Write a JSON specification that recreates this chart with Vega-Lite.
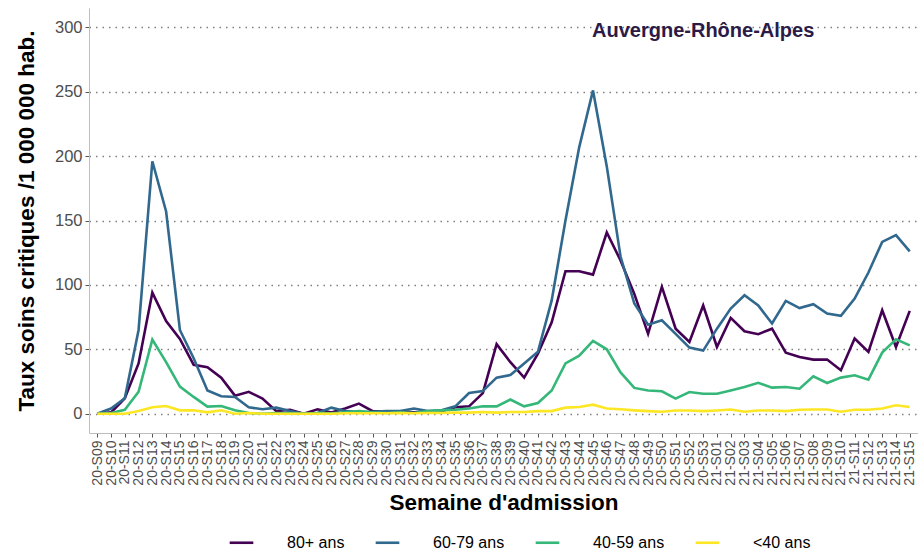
{
  "$schema": "https://vega.github.io/schema/vega-lite/v6.json",
  "width": 829,
  "height": 425,
  "autosize": {"type": "none"},
  "padding": {"left": 89, "top": 8, "right": 0, "bottom": 118},
  "background": "white",
  "config": {
    "font": "Liberation Sans",
    "view": {"stroke": null},
    "axis": {"labelFont": "Liberation Sans", "titleFont": "Liberation Sans"}
  },
  "layer": [
    {
      "data": {"values": [
        {"week":"20-S09","80+ ans":0,"60-79 ans":0,"40-59 ans":0,"<40 ans":0},
        {"week":"20-S10","80+ ans":1,"60-79 ans":4,"40-59 ans":0.5,"<40 ans":0},
        {"week":"20-S11","80+ ans":12,"60-79 ans":12,"40-59 ans":3,"<40 ans":0},
        {"week":"20-S12","80+ ans":39,"60-79 ans":65,"40-59 ans":17,"<40 ans":2},
        {"week":"20-S13","80+ ans":94,"60-79 ans":196,"40-59 ans":57.5,"<40 ans":5},
        {"week":"20-S14","80+ ans":72,"60-79 ans":157,"40-59 ans":40,"<40 ans":6},
        {"week":"20-S15","80+ ans":58,"60-79 ans":65,"40-59 ans":21,"<40 ans":2.6},
        {"week":"20-S16","80+ ans":38,"60-79 ans":43,"40-59 ans":13,"<40 ans":2.6},
        {"week":"20-S17","80+ ans":36,"60-79 ans":18,"40-59 ans":5.5,"<40 ans":1},
        {"week":"20-S18","80+ ans":28,"60-79 ans":13.5,"40-59 ans":6,"<40 ans":2.6},
        {"week":"20-S19","80+ ans":14,"60-79 ans":13,"40-59 ans":2.6,"<40 ans":0},
        {"week":"20-S20","80+ ans":17,"60-79 ans":5,"40-59 ans":0.5,"<40 ans":0.5},
        {"week":"20-S21","80+ ans":11.7,"60-79 ans":3.4,"40-59 ans":0,"<40 ans":0},
        {"week":"20-S22","80+ ans":2,"60-79 ans":4.7,"40-59 ans":0.5,"<40 ans":0},
        {"week":"20-S23","80+ ans":3,"60-79 ans":2,"40-59 ans":0.3,"<40 ans":0},
        {"week":"20-S24","80+ ans":0,"60-79 ans":0,"40-59 ans":0,"<40 ans":0},
        {"week":"20-S25","80+ ans":3.4,"60-79 ans":0.5,"40-59 ans":0.5,"<40 ans":0},
        {"week":"20-S26","80+ ans":1,"60-79 ans":4.7,"40-59 ans":0.3,"<40 ans":0},
        {"week":"20-S27","80+ ans":4,"60-79 ans":2,"40-59 ans":1,"<40 ans":0.3},
        {"week":"20-S28","80+ ans":7.8,"60-79 ans":1.3,"40-59 ans":2,"<40 ans":0.3},
        {"week":"20-S29","80+ ans":2,"60-79 ans":1.5,"40-59 ans":1,"<40 ans":0.3},
        {"week":"20-S30","80+ ans":1.5,"60-79 ans":2,"40-59 ans":0.5,"<40 ans":0.3},
        {"week":"20-S31","80+ ans":1.5,"60-79 ans":2,"40-59 ans":1,"<40 ans":0.5},
        {"week":"20-S32","80+ ans":1,"60-79 ans":4,"40-59 ans":0.5,"<40 ans":0.3},
        {"week":"20-S33","80+ ans":1.5,"60-79 ans":2,"40-59 ans":2,"<40 ans":0.5},
        {"week":"20-S34","80+ ans":2,"60-79 ans":2.6,"40-59 ans":2.6,"<40 ans":0.5},
        {"week":"20-S35","80+ ans":5,"60-79 ans":5.7,"40-59 ans":3,"<40 ans":0.8},
        {"week":"20-S36","80+ ans":5.7,"60-79 ans":16,"40-59 ans":4,"<40 ans":0.8},
        {"week":"20-S37","80+ ans":16,"60-79 ans":17.6,"40-59 ans":5.7,"<40 ans":1.3},
        {"week":"20-S38","80+ ans":54,"60-79 ans":28,"40-59 ans":5.7,"<40 ans":0.8},
        {"week":"20-S39","80+ ans":40,"60-79 ans":30,"40-59 ans":11,"<40 ans":1.3},
        {"week":"20-S40","80+ ans":28,"60-79 ans":39,"40-59 ans":5.7,"<40 ans":1.3},
        {"week":"20-S41","80+ ans":46.6,"60-79 ans":48,"40-59 ans":8.3,"<40 ans":2},
        {"week":"20-S42","80+ ans":71,"60-79 ans":88,"40-59 ans":18,"<40 ans":2},
        {"week":"20-S43","80+ ans":110.6,"60-79 ans":150,"40-59 ans":39,"<40 ans":4.7},
        {"week":"20-S44","80+ ans":110.6,"60-79 ans":207,"40-59 ans":45,"<40 ans":5.2},
        {"week":"20-S45","80+ ans":108,"60-79 ans":251,"40-59 ans":56.5,"<40 ans":7},
        {"week":"20-S46","80+ ans":140.7,"60-79 ans":192,"40-59 ans":50,"<40 ans":4},
        {"week":"20-S47","80+ ans":119,"60-79 ans":122,"40-59 ans":32,"<40 ans":3.4},
        {"week":"20-S48","80+ ans":93,"60-79 ans":85.5,"40-59 ans":20,"<40 ans":2.6},
        {"week":"20-S49","80+ ans":62,"60-79 ans":69,"40-59 ans":18,"<40 ans":2},
        {"week":"20-S50","80+ ans":98.4,"60-79 ans":72.5,"40-59 ans":17.4,"<40 ans":1.5},
        {"week":"20-S51","80+ ans":66,"60-79 ans":62,"40-59 ans":11.7,"<40 ans":2.5},
        {"week":"20-S52","80+ ans":55.7,"60-79 ans":51.3,"40-59 ans":16.8,"<40 ans":2.5},
        {"week":"20-S53","80+ ans":84,"60-79 ans":49,"40-59 ans":15.5,"<40 ans":2},
        {"week":"21-S01","80+ ans":51.8,"60-79 ans":66,"40-59 ans":15.5,"<40 ans":2.5},
        {"week":"21-S02","80+ ans":74.4,"60-79 ans":81.6,"40-59 ans":18,"<40 ans":3.2},
        {"week":"21-S03","80+ ans":64,"60-79 ans":92,"40-59 ans":20.7,"<40 ans":1.5},
        {"week":"21-S04","80+ ans":61.7,"60-79 ans":84,"40-59 ans":24,"<40 ans":2.5},
        {"week":"21-S05","80+ ans":66,"60-79 ans":70,"40-59 ans":20.2,"<40 ans":2.5},
        {"week":"21-S06","80+ ans":47.4,"60-79 ans":87.6,"40-59 ans":20.7,"<40 ans":2},
        {"week":"21-S07","80+ ans":44,"60-79 ans":82,"40-59 ans":19.4,"<40 ans":3},
        {"week":"21-S08","80+ ans":42,"60-79 ans":85,"40-59 ans":29,"<40 ans":3.2},
        {"week":"21-S09","80+ ans":42,"60-79 ans":77.7,"40-59 ans":23.8,"<40 ans":3.2},
        {"week":"21-S10","80+ ans":33.7,"60-79 ans":76,"40-59 ans":28,"<40 ans":1.5},
        {"week":"21-S11","80+ ans":58.3,"60-79 ans":89.4,"40-59 ans":29.8,"<40 ans":3},
        {"week":"21-S12","80+ ans":48,"60-79 ans":109.6,"40-59 ans":26.4,"<40 ans":3},
        {"week":"21-S13","80+ ans":80.3,"60-79 ans":133.4,"40-59 ans":47.4,"<40 ans":4},
        {"week":"21-S14","80+ ans":51.8,"60-79 ans":138.6,"40-59 ans":57.8,"<40 ans":6.5},
        {"week":"21-S15","80+ ans":79.8,"60-79 ans":126,"40-59 ans":53,"<40 ans":5.2}
      ]},
      "transform": [
        {"fold": ["80+ ans", "60-79 ans", "40-59 ans", "<40 ans"], "as": ["age", "value"]}
      ],
      "mark": {"type": "line", "strokeWidth": 2.6, "clip": true},
      "encoding": {
        "x": {
          "field": "week", "type": "ordinal",
          "scale": {"type": "point", "padding": 0.6},
          "axis": {
            "title": "Semaine d'admission",
            "titleFontSize": 22.5, "titleFontWeight": "bold", "titleColor": "black",
            "titlePadding": 6,
            "labelAngle": -90, "labelFontSize": 14, "labelColor": "#4d4d4d",
            "labelPadding": 3, "labelBaseline": "middle", "labelAlign": "right",
            "ticks": true, "tickSize": 4, "tickColor": "#555555",
            "domainColor": "#bdbdbd", "domainWidth": 1,
            "grid": false, "labelOverlap": false
          }
        },
        "y": {
          "field": "value", "type": "quantitative",
          "scale": {"domain": [-15, 315], "nice": false, "zero": false},
          "axis": {
            "title": "Taux soins critiques /1 000 000 hab.",
            "titleFontSize": 22.5, "titleFontWeight": "bold", "titleColor": "black",
            "titlePadding": 16,
            "values": [0, 50, 100, 150, 200, 250, 300],
            "labelFontSize": 16.5, "labelColor": "#4d4d4d", "labelPadding": 3,
            "tickSize": 4, "tickColor": "#555555",
            "domainColor": "#bdbdbd", "domainWidth": 1,
            "grid": true, "gridColor": "#7f7f7f", "gridDash": [1.5, 5], "gridWidth": 1.3
          }
        },
        "color": {
          "field": "age", "type": "nominal",
          "scale": {
            "domain": ["80+ ans", "60-79 ans", "40-59 ans", "<40 ans"],
            "range": ["#440154", "#31688E", "#35B779", "#FDE725"]
          },
          "legend": {
            "title": null, "orient": "none", "direction": "horizontal",
            "legendX": 139, "legendY": 521,
            "symbolType": "stroke", "symbolSize": 560, "symbolStrokeWidth": 2.6,
            "labelFontSize": 16, "labelColor": "black", "labelOffset": 32,
            "columnPadding": 25
          }
        }
      }
    },
    {
      "data": {"values": [{"label": "Auvergne-Rhône-Alpes"}]},
      "mark": {"type": "text", "fontSize": 20, "fontWeight": "bold", "color": "#2c1a47", "align": "center", "baseline": "middle"},
      "encoding": {
        "x": {"datum": "20-S53", "type": "ordinal"},
        "y": {"datum": 297.5, "type": "quantitative"},
        "text": {"field": "label"}
      }
    }
  ]
}
